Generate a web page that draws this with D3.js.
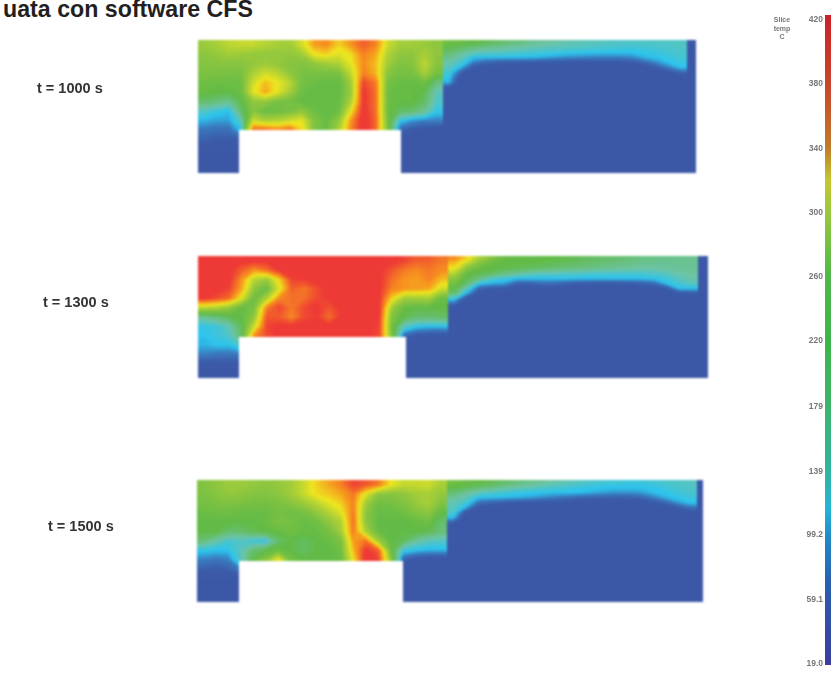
<!DOCTYPE html>
<html>
<head>
<meta charset="utf-8">
<style>
  html, body { margin: 0; padding: 0; background: #fff; overflow: hidden; }
</style>
<script src="https://cdn.jsdelivr.net/npm/d3@7/dist/d3.min.js"></script>
</head>
<body>
<div id="chart"></div>
<script>
// temperature readings (deg C), left room and right room of each slice
const t1000Left = [
  [235,245,260,265,265,255,245,240,275,325,335,300,330,360,340,270,240,240,235,225],
  [225,230,240,235,230,228,228,228,240,290,300,280,295,340,320,250,225,225,245,225],
  [218,220,222,220,228,238,228,220,215,228,240,250,285,335,310,240,215,218,260,220],
  [210,210,208,208,248,272,258,228,208,208,208,208,265,340,315,222,205,208,245,205],
  [200,198,198,200,272,312,288,258,205,198,195,192,240,375,345,205,195,195,200,160],
  [195,190,190,198,282,322,282,242,198,192,192,192,235,385,350,198,192,192,185,130],
  [170,165,150,185,228,228,208,205,192,192,192,195,250,385,350,198,192,192,175,125],
  [125,112,105,170,218,198,198,208,228,200,192,200,290,390,350,198,175,170,150,110],
  [100,95,95,130,270,250,255,270,285,215,195,230,330,395,355,205,110,92,85,85],
  [80,75,75,105,360,360,340,360,300,210,195,250,340,395,355,210,70,55,48,45],
  [65,60,60,60,60,60,60,60,60,60,60,60,60,60,60,60,45,42,40,40],
  [50,50,50,50,50,50,50,50,50,50,50,50,50,50,50,50,40,40,40,40],
  [42,42,42,42,42,42,42,42,42,42,42,42,42,42,42,42,40,40,40,40],
  [38,38,38,38,38,38,38,38,38,38,38,38,38,38,38,38,38,38,38,38]
];
const t1000Right = [
  [200,195,190,185,175,165,160,150,145,140,135,132,130,128,126,125,125,125,125,125],
  [185,175,165,155,150,145,140,135,132,130,128,126,122,120,118,116,118,120,122,125],
  [170,150,135,130,128,125,122,118,115,112,110,108,106,105,105,105,108,112,118,122],
  [155,135,105,104,103,103,102,100,96,92,88,86,85,85,85,88,100,105,112,118],
  [140,120,85,70,65,62,60,58,56,55,54,54,54,54,55,60,72,90,105,112],
  [130,100,55,50,48,47,46,45,44,43,43,43,43,43,44,46,50,62,85,105],
  [120,65,45,42,41,41,41,40,40,40,40,40,40,40,40,41,42,46,55,70],
  [108,45,40,40,40,40,40,40,40,40,40,40,40,40,40,40,40,40,42,45],
  [100,40,40,40,40,40,40,40,40,40,40,40,40,40,40,40,40,40,40,40],
  [60,40,40,40,40,40,40,40,40,40,40,40,40,40,40,40,40,40,40,40],
  [42,40,40,40,40,40,40,40,40,40,40,40,40,40,40,40,40,40,40,40],
  [40,40,40,40,40,40,40,40,40,40,40,40,40,40,40,40,40,40,40,40]
];
const t1300Left = [
  [385,385,385,385,385,385,385,385,385,385,385,385,385,385,385,385,375,360,360,345],
  [385,385,385,360,330,350,385,385,385,385,385,385,385,385,385,365,345,335,345,335],
  [385,385,385,330,255,235,300,375,380,385,385,385,385,385,385,350,330,325,340,310],
  [385,385,375,320,225,195,280,360,345,370,385,385,385,385,385,340,330,325,320,270],
  [385,370,350,280,200,250,335,350,350,372,385,385,385,385,380,300,240,240,245,195],
  [260,250,230,195,210,340,375,345,372,385,365,385,385,385,385,240,195,190,190,190],
  [150,165,180,190,230,365,362,335,372,380,350,385,385,385,380,215,185,170,170,175],
  [110,115,135,180,270,375,385,385,385,385,385,385,385,385,375,205,130,110,105,105],
  [105,115,125,175,335,370,385,385,385,385,385,385,385,385,370,210,70,55,50,50],
  [100,105,105,130,385,385,385,385,385,385,385,385,385,385,385,385,48,44,42,42],
  [85,80,80,80,80,80,80,80,80,80,80,80,80,80,80,80,42,40,40,40],
  [55,55,55,55,55,55,55,55,55,55,55,55,55,55,55,55,40,40,40,40],
  [40,40,40,40,40,40,40,40,40,40,40,40,40,40,40,40,38,38,38,38]
];
const t1300Right = [
  [335,300,245,215,195,190,190,190,190,185,180,175,172,170,165,160,158,155,155,155],
  [310,260,215,195,190,190,190,185,180,178,175,170,165,160,155,150,150,150,150,150],
  [290,220,195,190,185,180,175,170,165,160,158,155,150,148,145,142,142,145,148,150],
  [255,195,185,175,160,150,135,130,130,125,125,120,120,120,120,120,125,130,140,145],
  [225,185,160,125,115,105,105,105,105,108,105,105,105,105,105,105,108,115,130,140],
  [205,170,110,100,95,70,65,75,75,65,60,58,58,58,60,65,75,105,120,130],
  [190,130,70,60,58,48,47,48,50,48,46,45,45,45,46,47,50,60,105,105],
  [170,100,48,46,45,44,43,43,43,42,42,42,42,42,42,42,42,45,55,60],
  [115,50,42,42,42,41,41,41,41,41,41,41,41,41,41,41,41,42,44,46],
  [75,42,40,40,40,40,40,40,40,40,40,40,40,40,40,40,40,40,40,40],
  [50,40,40,40,40,40,40,40,40,40,40,40,40,40,40,40,40,40,40,40],
  [42,40,40,40,40,40,40,40,40,40,40,40,40,40,40,40,40,40,40,40]
];
const t1500Left = [
  [215,225,235,235,230,225,230,240,265,300,320,340,375,365,345,290,265,265,270,245],
  [210,220,230,225,220,215,225,240,265,295,305,320,345,280,225,220,225,240,245,230],
  [205,210,215,210,205,205,210,220,235,255,280,300,340,240,200,205,215,230,245,215],
  [195,200,200,195,195,195,205,200,205,225,250,280,345,225,195,195,200,215,225,190],
  [190,190,190,190,190,195,210,205,195,200,225,250,350,225,190,190,190,195,200,170],
  [190,190,170,170,185,190,195,200,195,195,205,240,345,250,195,190,190,190,185,165],
  [165,140,120,125,115,110,170,190,175,190,195,210,325,350,240,190,180,145,130,125],
  [108,105,105,130,170,185,200,190,175,190,190,200,310,385,360,200,115,105,100,100],
  [85,80,85,130,190,220,290,205,190,190,190,195,290,395,375,230,65,52,45,45],
  [65,60,65,85,190,220,290,205,190,190,190,195,290,395,375,230,48,44,42,42],
  [50,50,50,50,50,50,50,50,50,50,50,50,50,50,50,50,40,40,40,40],
  [40,40,40,40,40,40,40,40,40,40,40,40,40,40,40,40,38,38,38,38],
  [38,38,38,38,38,38,38,38,38,38,38,38,38,38,38,38,38,38,38,38]
];
const t1500Right = [
  [205,195,190,185,175,165,155,150,140,135,130,125,120,118,115,115,118,122,125,128],
  [190,180,170,160,150,140,135,128,122,118,112,108,106,105,105,105,108,115,120,125],
  [170,150,135,125,118,112,108,106,105,105,104,100,96,92,92,95,103,108,115,122],
  [150,135,105,104,102,100,96,90,84,78,72,68,66,65,66,70,85,100,108,115],
  [135,120,80,70,65,60,56,54,52,50,48,47,47,47,48,50,58,72,95,106],
  [130,100,52,48,46,45,44,43,43,42,42,42,42,42,42,43,45,50,62,80],
  [125,55,43,42,41,41,41,41,40,40,40,40,40,40,40,41,41,43,46,52],
  [105,42,40,40,40,40,40,40,40,40,40,40,40,40,40,40,40,40,41,42],
  [65,40,40,40,40,40,40,40,40,40,40,40,40,40,40,40,40,40,40,40],
  [42,40,40,40,40,40,40,40,40,40,40,40,40,40,40,40,40,40,40,40],
  [40,40,40,40,40,40,40,40,40,40,40,40,40,40,40,40,40,40,40,40],
  [40,40,40,40,40,40,40,40,40,40,40,40,40,40,40,40,40,40,40,40]
];
const legendTicks = [420, 380, 340, 300, 260, 220, 179, 139, 99.2, 59.1, 19];
const legendTemps = [420, 380, 340, 320, 300, 260, 220, 179, 139, 115, 99, 70, 19];

const width = 831;
const height = 674;

// layout of the three slices
const panels = [
  { label: 't = 1000 s', lx: 37, ly: 93, left: t1000Left, right: t1000Right, x0: 198, wall: 443, x1: 687, x2: 696, y0: 40, y1: 173, holeX0: 239, holeX1: 401, holeY: 130 },
  { label: 't = 1300 s', lx: 43, ly: 307, left: t1300Left, right: t1300Right, x0: 198, wall: 448, x1: 698, x2: 708, y0: 256, y1: 378, holeX0: 239, holeX1: 406, holeY: 337 },
  { label: 't = 1500 s', lx: 48, ly: 531, left: t1500Left, right: t1500Right, x0: 197, wall: 447, x1: 697, x2: 703, y0: 480, y1: 602, holeX0: 239, holeX1: 403, holeY: 561 }
];

const color = d3.scaleLinear()
  .domain([19, 60, 85, 105, 140, 190, 225, 255, 290, 330, 380, 420])
  .range(['#3b54a4', '#3b5aa8', '#3a7cc0', '#2cc4ee', '#6cc4a8', '#62bb46', '#8dc63f', '#b5d334', '#eee620', '#f7941e', '#ee3a36', '#ee3a36'])
  .clamp(true);

const legendColor = d3.scaleLinear()
  .domain(legendTemps)
  .range(['#cf2128', '#c9452c', '#c07a2a', '#c6c62e', '#9ac93c', '#4fb848', '#3db54a', '#3db56a', '#2fb5a0', '#22b5d5', '#1f8fc8', '#2a5fae', '#3a3f9f']);

const thresholds = d3.range(20, 425, 4);

const svg = d3.select('#chart')
  .append('svg')
  .attr('width', width)
  .attr('height', height);

const defs = svg.append('defs');

function addBlur(id, dev) {
  defs.append('filter')
    .attr('id', id)
    .attr('x', '-5%').attr('y', '-5%')
    .attr('width', '110%').attr('height', '110%')
    .attr('color-interpolation-filters', 'sRGB')
    .append('feGaussianBlur')
    .attr('stdDeviation', dev);
}
addBlur('soft', 1.1);
addBlur('softText', 0.45);
addBlur('softTiny', 0.6);

// one room: filled isotherms from the grid, placed by the two scales.
// edge cells are repeated once outside the room so the clip gives square corners
let clipCount = 0;
function drawGrid(g, grid, x, y) {
  const padRow = (r) => [r[0], ...r, r[r.length - 1]];
  const padded = [grid[0], ...grid, grid[grid.length - 1]].map(padRow);
  const rows = padded.length;
  const cols = padded[0].length;
  const contours = d3.contours().size([cols, rows]).thresholds(thresholds)(padded.flat());
  const path = d3.geoPath(d3.geoTransform({
    point(px, py) {
      this.stream.point(x(px - 1), y(py - 1));
    }
  }));
  const id = 'room' + clipCount++;
  defs.append('clipPath')
    .attr('id', id)
    .append('rect')
    .attr('x', x(0))
    .attr('y', y(0))
    .attr('width', x(grid[0].length) - x(0))
    .attr('height', y(grid.length) - y(0));
  g.append('g')
    .attr('clip-path', 'url(#' + id + ')')
    .selectAll('path')
    .data(contours)
    .enter()
    .append('path')
    .attr('d', path)
    .attr('fill', (d) => color(d.value + 2));
}

panels.forEach((p) => {
  const g = svg.append('g').attr('filter', 'url(#soft)');

  const xLeft = d3.scaleLinear().domain([0, p.left[0].length]).range([p.x0, p.wall]);
  const yLeft = d3.scaleLinear().domain([0, p.left.length]).range([p.y0, p.y1]);
  drawGrid(g, p.left, xLeft, yLeft);

  // below the right grid the room stays at ambient
  g.append('rect')
    .attr('x', p.wall)
    .attr('y', p.y0)
    .attr('width', p.x2 - p.wall)
    .attr('height', p.y1 - p.y0)
    .attr('fill', color(40));

  const xRight = d3.scaleLinear().domain([0, p.right[0].length]).range([p.wall, p.x1]);
  const yRight = d3.scaleLinear().domain([0, p.right.length]).range([p.y0, p.y0 + p.right.length * 5]);
  drawGrid(g, p.right, xRight, yRight);

  g.append('rect')
    .attr('x', p.holeX0)
    .attr('y', p.holeY)
    .attr('width', p.holeX1 - p.holeX0)
    .attr('height', p.y1 - p.holeY + 3)
    .attr('fill', '#fff');

  svg.append('text')
    .attr('x', p.lx)
    .attr('y', p.ly)
    .attr('font-family', 'Liberation Sans')
    .attr('font-weight', 'bold')
    .attr('font-size', 14.5)
    .attr('fill', '#333')
    .attr('filter', 'url(#softText)')
    .text(p.label);
});

svg.append('text')
  .attr('x', 253)
  .attr('y', 17)
  .attr('text-anchor', 'end')
  .attr('font-family', 'Liberation Sans')
  .attr('font-weight', 'bold')
  .attr('font-size', 23.2)
  .attr('fill', '#231f20')
  .text('uata con software CFS');

// colour legend
const yLegend = d3.scaleLinear().domain([19, 420]).range([663, 19]);

const grad = defs.append('linearGradient')
  .attr('id', 'legendGrad')
  .attr('x1', 0).attr('x2', 0)
  .attr('y1', 0).attr('y2', 1);

const barTop = 15;
const barBottom = 665;
grad.selectAll('stop')
  .data(legendTemps)
  .enter()
  .append('stop')
  .attr('offset', (d) => (yLegend(d) - barTop) / (barBottom - barTop))
  .attr('stop-color', (d) => legendColor(d));

svg.append('rect')
  .attr('x', 825)
  .attr('y', barTop)
  .attr('width', 6)
  .attr('height', barBottom - barTop)
  .attr('fill', 'url(#legendGrad)');

const axis = d3.axisLeft(yLegend)
  .tickValues(legendTicks)
  .tickSize(0)
  .tickPadding(0)
  .tickFormat((d) => (d >= 100 ? d3.format('.0f')(d) : d3.format('.1f')(d)));

const axisG = svg.append('g')
  .attr('transform', 'translate(823,0)')
  .attr('filter', 'url(#softTiny)')
  .call(axis);
axisG.select('.domain').remove();
axisG.selectAll('text')
  .attr('font-family', 'Liberation Sans')
  .attr('font-size', 8.5)
  .attr('font-weight', 'bold')
  .attr('fill', '#777');

svg.append('g')
  .attr('filter', 'url(#softTiny)')
  .selectAll('text')
  .data(['Slice', 'temp', 'C'])
  .enter()
  .append('text')
  .attr('x', 782)
  .attr('y', (d, i) => 22 + i * 8.5)
  .attr('text-anchor', 'middle')
  .attr('font-family', 'Liberation Sans')
  .attr('font-weight', 'bold')
  .attr('font-size', 7)
  .attr('fill', '#777')
  .text((d) => d);
</script>
</body>
</html>
